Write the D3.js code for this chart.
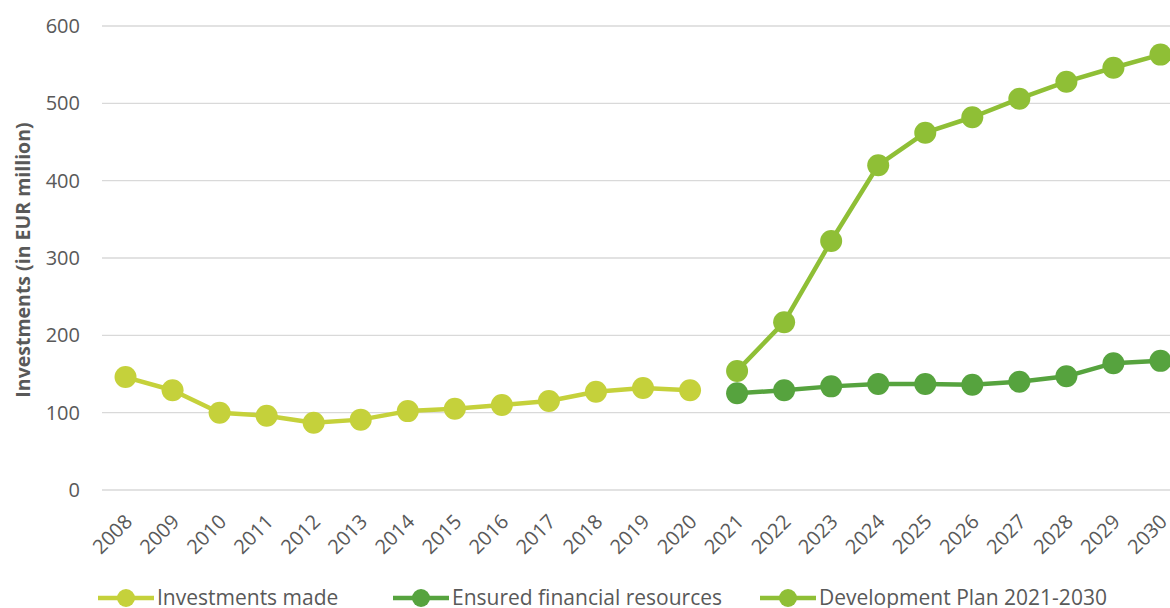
<!DOCTYPE html>
<html>
<head>
<meta charset="utf-8">
<script src="https://cdn.jsdelivr.net/npm/d3@7"></script>
<style>
  body { margin: 0; background: #fff; }
  svg { display: block; font-family: "Open Sans", sans-serif; }
</style>
</head>
<body>
<svg id="chart" width="1170" height="608"></svg>
<script>
// years on the category axis
var years = ['2008', '2009', '2010', '2011', '2012', '2013', '2014', '2015', '2016', '2017', '2018',
    '2019', '2020', '2021', '2022', '2023', '2024', '2025', '2026', '2027', '2028', '2029', '2030'];

var yTicks = [0, 100, 200, 300, 400, 500, 600];

// series values (EUR million), null where a series has no point
var investmentsMade = [146, 129, 100, 96, 87, 91, 102, 105, 110, 115, 127, 132, 129,
    null, null, null, null, null, null, null, null, null, null];
var ensuredResources = [null, null, null, null, null, null, null, null, null, null, null, null, null,
    125, 129, 134, 137, 137, 136, 140, 147, 164, 167];
var developmentPlan = [null, null, null, null, null, null, null, null, null, null, null, null, null,
    154, 217, 322, 420, 462, 482, 506, 528, 546, 563];

var series = [
    { name: 'Investments made', values: investmentsMade, color: '#c5d13b' },
    { name: 'Ensured financial resources', values: ensuredResources, color: '#56a33e' },
    { name: 'Development Plan 2021-2030', values: developmentPlan, color: '#8fbf36' }
];

var svg = d3.select('#chart'),
    plotLeft = 102, plotRight = 1184, plotTop = 26, plotBottom = 490,
    textColor = '#595959';

var x = d3.scaleBand().domain(years).range([plotLeft, plotRight]),
    y = d3.scaleLinear().domain([0, 600]).range([plotBottom, plotTop]);

var cx = function (d) { return x(d) + x.bandwidth() / 2; };

// gridlines
svg.append('g').selectAll('line').data(yTicks).enter().append('line')
    .attr('x1', plotLeft).attr('x2', plotRight)
    .attr('y1', function (d) { return y(d); })
    .attr('y2', function (d) { return y(d); })
    .attr('stroke', '#d9d9d9').attr('stroke-width', 1.3);

// y tick labels
svg.append('g').selectAll('text').data(yTicks).enter().append('text')
    .attr('x', 80).attr('y', function (d) { return y(d); })
    .attr('dy', '0.35em').attr('text-anchor', 'end')
    .attr('font-size', 20).attr('fill', textColor)
    .text(function (d) { return d; });

// y axis title
svg.append('text')
    .attr('transform', 'translate(30,' + ((plotTop + plotBottom) / 2 + 2) + ') rotate(-90)')
    .attr('text-anchor', 'middle')
    .attr('font-size', 19.5).attr('font-weight', 'bold').attr('fill', textColor)
    .text('Investments (in EUR million)');

// x tick labels, rotated
svg.append('g').selectAll('text').data(years).enter().append('text')
    .attr('transform', function (d) { return 'translate(' + (cx(d) + 3) + ',' + (plotBottom + 28) + ') rotate(-45)'; })
    .attr('text-anchor', 'end').attr('dy', '0.35em')
    .attr('font-size', 20).attr('fill', textColor)
    .text(function (d) { return d; });

var line = d3.line()
    .defined(function (d) { return d.v != null; })
    .x(function (d) { return cx(d.year); })
    .y(function (d) { return y(d.v); });

series.forEach(function (s) {
    var pts = years.map(function (yr, i) { return { year: yr, v: s.values[i] }; });
    var g = svg.append('g');
    g.append('path').datum(pts)
        .attr('d', line)
        .attr('fill', 'none').attr('stroke', s.color)
        .attr('stroke-width', 4.5).attr('stroke-linejoin', 'round');
    g.selectAll('circle').data(pts.filter(function (d) { return d.v != null; }))
        .enter().append('circle')
        .attr('cx', function (d) { return cx(d.year); })
        .attr('cy', function (d) { return y(d.v); })
        .attr('r', 11).attr('fill', s.color);
});

// legend
var legendX = [98, 393, 760];
var legend = svg.append('g').selectAll('g').data(series).enter().append('g')
    .attr('transform', function (d, i) { return 'translate(' + legendX[i] + ',598)'; });
legend.append('line')
    .attr('x1', 0).attr('x2', 56)
    .attr('stroke', function (d) { return d.color; }).attr('stroke-width', 4.5);
legend.append('circle')
    .attr('cx', 28).attr('r', 9)
    .attr('fill', function (d) { return d.color; });
legend.append('text')
    .attr('x', 59).attr('dy', '0.35em')
    .attr('font-size', 21).attr('fill', textColor)
    .text(function (d) { return d.name; });
</script>
</body>
</html>
